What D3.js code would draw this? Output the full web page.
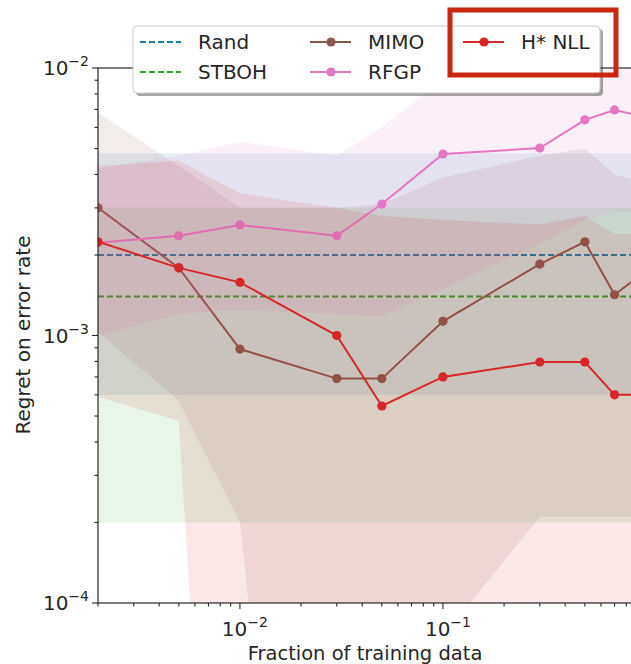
<!DOCTYPE html>
<html>
<head>
<meta charset="utf-8">
<script src="https://cdn.jsdelivr.net/npm/d3@7"></script>
<style>
  body { margin: 0; background: #fff; }
  text { font-family: "DejaVu Sans", sans-serif; fill: #262626; }
</style>
</head>
<body>
<svg id="chart"></svg>
<script>
// fraction of training data
const xVals = [0.002, 0.005, 0.01, 0.03, 0.05, 0.1, 0.3, 0.5, 0.7, 0.9];

// regret curves
const mimo   = [0.0030, 0.00179, 0.00089, 0.00069, 0.00069, 0.00113, 0.00185, 0.00224, 0.00142, 0.00164];
const mimoLo = [0.00103, 0.00057, 0.0002, 1e-7, 1e-7, 7.5e-5, 0.00021, 0.00021, 0.00021, 0.00021];
const mimoHi = [0.0068, 0.0043, 0.0030, 0.0030, 0.0031, 0.0039, 0.0047, 0.0050, 0.0040, 0.0038];

const rfgp   = [0.00222, 0.00236, 0.00259, 0.00236, 0.0031, 0.00477, 0.00502, 0.0064, 0.00697, 0.00667];
const rfgpLo = [0.0010, 0.0012, 0.00125, 0.0012, 0.00118, 0.0015, 0.0022, 0.0027, 0.0029, 0.0029];
const rfgpHi = [0.0042, 0.0047, 0.0053, 0.0047, 0.0060, 0.0090, 0.014, 0.02, 0.02, 0.02];

const hnll   = [0.00224, 0.00179, 0.00158, 0.0010, 0.000545, 0.0007, 0.000796, 0.000796, 0.0006, 0.0006];
const hnllLo = [0.00059, 0.00048, 1e-7, 1e-7, 1e-7, 1e-7, 1e-7, 1e-7, 1e-7, 1e-7];
const hnllHi = [0.0043, 0.0045, 0.0034, 0.0030, 0.0028, 0.0027, 0.0026, 0.0028, 0.0024, 0.0024];

// constant baselines
const randVal = 0.002, randLo = 0.0006, randHi = 0.0048;
const stbohVal = 0.0014, stbohLo = 0.0002, stbohHi = 0.003;

const width = 631, height = 664;
const margin = { top: 68, left: 98, bottom: 603, right: 646 };

const svg = d3.select('#chart').attr('width', width).attr('height', height);

const x = d3.scaleLog().domain([0.002, 1]).range([margin.left, margin.right]);
const y = d3.scaleLog().domain([1e-4, 1e-2]).range([margin.bottom, margin.top]);

svg.append('clipPath').attr('id', 'clip')
    .append('rect')
    .attr('x', margin.left).attr('y', margin.top)
    .attr('width', margin.right - margin.left).attr('height', margin.bottom - margin.top);

const plot = svg.append('g').attr('clip-path', 'url(#clip)');

const area = d3.area().x(d => x(d.x)).y0(d => y(d.lo)).y1(d => y(d.hi));
const line = d3.line().x(d => x(d.x)).y(d => y(d.v));

const series = [
    { name: 'Rand', color: '#1f77b4', dashed: true,
      pts: x.domain().map(v => ({ x: v, v: randVal, lo: randLo, hi: randHi })) },
    { name: 'STBOH', color: '#2ca02c', dashed: true,
      pts: x.domain().map(v => ({ x: v, v: stbohVal, lo: stbohLo, hi: stbohHi })) },
    { name: 'MIMO', color: '#8c564b',
      pts: xVals.map((v, i) => ({ x: v, v: mimo[i], lo: mimoLo[i], hi: mimoHi[i] })) },
    { name: 'RFGP', color: '#e377c2',
      pts: xVals.map((v, i) => ({ x: v, v: rfgp[i], lo: rfgpLo[i], hi: rfgpHi[i] })) },
    { name: 'H* NLL', color: '#d62728',
      pts: xVals.map((v, i) => ({ x: v, v: hnll[i], lo: hnllLo[i], hi: hnllHi[i] })) },
];

series.forEach(s => {
    plot.append('path')
        .attr('d', area(s.pts))
        .attr('fill', s.color)
        .attr('fill-opacity', 0.11);

    plot.append('path')
        .attr('d', line(s.pts))
        .attr('fill', 'none')
        .attr('stroke', s.color)
        .attr('stroke-width', 2)
        .attr('stroke-dasharray', s.dashed ? '6,3' : null);

    if (!s.dashed) {
        plot.selectAll(null)
            .data(s.pts)
            .enter()
            .append('circle')
            .attr('cx', d => x(d.x))
            .attr('cy', d => y(d.v))
            .attr('r', 4.6)
            .attr('fill', s.color);
    }
});

// spines
svg.append('rect')
    .attr('x', margin.left).attr('y', margin.top)
    .attr('width', margin.right - margin.left).attr('height', margin.bottom - margin.top)
    .attr('fill', 'none').attr('stroke', '#262626').attr('stroke-width', 1.2);

// ticks
const sup = { '-4': '\u22124', '-3': '\u22123', '-2': '\u22122', '-1': '\u22121' };
const xMajor = [0.01, 0.1];
const xMinor = [];
[0.001, 0.01, 0.1].forEach(b => d3.range(2, 10).forEach(k => {
    const v = b * k;
    if (v >= 0.002 && v < 1) xMinor.push(v);
}));
const yMajor = [1e-4, 1e-3, 1e-2];
const yMinor = [];
[1e-4, 1e-3].forEach(b => d3.range(2, 10).forEach(k => yMinor.push(b * k)));

const ticks = svg.append('g').attr('stroke', '#262626').attr('stroke-width', 1.1);
xMajor.forEach(v => ticks.append('line')
    .attr('x1', x(v)).attr('x2', x(v)).attr('y1', margin.bottom).attr('y2', margin.bottom + 6));
xMinor.forEach(v => ticks.append('line')
    .attr('x1', x(v)).attr('x2', x(v)).attr('y1', margin.bottom).attr('y2', margin.bottom + 3.5));
yMajor.forEach(v => ticks.append('line')
    .attr('y1', y(v)).attr('y2', y(v)).attr('x1', margin.left).attr('x2', margin.left - 6));
yMinor.forEach(v => ticks.append('line')
    .attr('y1', y(v)).attr('y2', y(v)).attr('x1', margin.left).attr('x2', margin.left - 3.5));

function powLabel(g, v, px, py, anchor) {
    const e = String(Math.round(Math.log10(v)));
    const t = g.append('text')
        .attr('x', px).attr('y', py)
        .attr('text-anchor', anchor)
        .style('font-size', '20px');
    t.append('tspan').text('10');
    t.append('tspan').attr('dy', -9).style('font-size', '14px').text(sup[e]);
}

xMajor.forEach(v => powLabel(svg, v, x(v) + 5, 636, 'middle'));
yMajor.forEach(v => powLabel(svg, v, margin.left - 9, y(v) + 7, 'end'));

svg.append('text')
    .attr('x', 365).attr('y', 660)
    .attr('text-anchor', 'middle')
    .style('font-size', '19.5px')
    .text('Fraction of training data');

svg.append('text')
    .attr('transform', 'translate(30,335) rotate(-90)')
    .attr('text-anchor', 'middle')
    .style('font-size', '20px')
    .text('Regret on error rate');

// legend
const legend = svg.append('g');
legend.append('rect')
    .attr('x', 136).attr('y', 29).attr('width', 467).attr('height', 67).attr('rx', 4)
    .attr('fill', '#000').attr('fill-opacity', 0.35);
legend.append('rect')
    .attr('x', 133).attr('y', 26).attr('width', 467).attr('height', 67).attr('rx', 4)
    .attr('fill', '#fff').attr('stroke', '#cccccc');

const legendItems = [
    { s: series[0], x: 140, y: 42 },
    { s: series[1], x: 140, y: 72 },
    { s: series[2], x: 310, y: 42 },
    { s: series[3], x: 310, y: 72 },
    { s: series[4], x: 463, y: 42 },
];
legendItems.forEach(it => {
    legend.append('line')
        .attr('x1', it.x).attr('x2', it.x + 41).attr('y1', it.y).attr('y2', it.y)
        .attr('stroke', it.s.color).attr('stroke-width', 2)
        .attr('stroke-dasharray', it.s.dashed ? '6,3' : null);
    if (!it.s.dashed) {
        legend.append('circle').attr('cx', it.x + 21).attr('cy', it.y).attr('r', 4.6)
            .attr('fill', it.s.color);
    }
    legend.append('text')
        .attr('x', it.x + 58).attr('y', it.y + 7)
        .style('font-size', '20px')
        .text(it.s.name);
});

// highlight box around H* NLL
svg.append('rect')
    .attr('x', 450).attr('y', 10).attr('width', 166).attr('height', 65)
    .attr('fill', 'none').attr('stroke', '#c8260f').attr('stroke-width', 5);
</script>
</body>
</html>
